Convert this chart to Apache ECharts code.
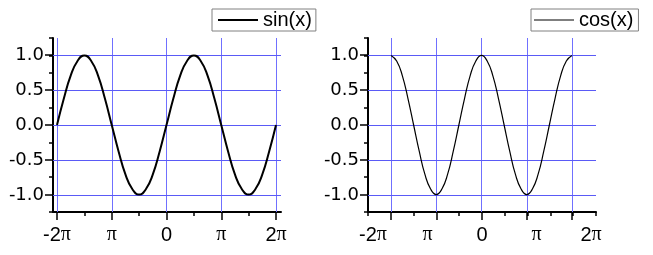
<!DOCTYPE html>
<html>
<head>
<meta charset="utf-8">
<script src="https://cdn.jsdelivr.net/npm/echarts@6/dist/echarts.min.js"></script>
<style>
html,body{margin:0;padding:0;background:#fff;}
#c{width:653px;height:255px;}
</style>
</head>
<body>
<div id="c"></div>
<script>
// x positions in units of pi
const xPi = [-2,-1.875,-1.75,-1.625,-1.5,-1.375,-1.25,-1.125,-1,-0.875,-0.75,-0.625,-0.5,-0.375,-0.25,-0.125,0,
             0.125,0.25,0.375,0.5,0.625,0.75,0.875,1,1.125,1.25,1.375,1.5,1.625,1.75,1.875,2];
// values
const sinValues = [0,0.38,0.71,0.92,1,0.92,0.71,0.38,0,-0.38,-0.71,-0.92,-1,-0.92,-0.71,-0.38,0,
                   0.38,0.71,0.92,1,0.92,0.71,0.38,0,-0.38,-0.71,-0.92,-1,-0.92,-0.71,-0.38,0];
const cosValues = [1,0.92,0.71,0.38,0,-0.38,-0.71,-0.92,-1,-0.92,-0.71,-0.38,0,0.38,0.71,0.92,1,
                   0.92,0.71,0.38,0,-0.38,-0.71,-0.92,-1,-0.92,-0.71,-0.38,0,0.38,0.71,0.92,1];
const xTickValues = [-2,-1,0,1,2];
const xTickLabels = ['-2π','π','0','π','2π'];
const yGridValues = [-1,-0.5,0,0.5,1];
const seriesNames = ['sin(x)','cos(x)'];

const SANS = 'Liberation Sans, Arial, sans-serif';
const YSANS = 'DejaVu Sans, sans-serif';
const SERIF = 'Liberation Serif, Times New Roman, serif';
const H_GRID = '#5a5af6';
const V_GRID = '#7070ff';
const THEME_LINE = '#6464f8';

// theme: any axis line/tick/split line left at a default colour becomes grid blue
const axisTheme = {
  axisLine:{lineStyle:{color:THEME_LINE}},
  axisTick:{lineStyle:{color:THEME_LINE}},
  minorTick:{lineStyle:{color:THEME_LINE}},
  splitLine:{lineStyle:{color:[THEME_LINE]}},
  minorSplitLine:{lineStyle:{color:THEME_LINE}},
  axisLabel:{color:'#000'}
};
echarts.registerTheme('gridblue', {
  valueAxis:axisTheme, categoryAxis:axisTheme, logAxis:axisTheme, timeAxis:axisTheme,
  axisPointer:{lineStyle:{color:THEME_LINE}}
});

function xLabelFmt(v){
  const i = xTickValues.indexOf(Math.round(v*1000)/1000);
  if (i < 0) return '';
  const t = xTickLabels[i];
  if (t.endsWith('π')) {
    const pre = t.slice(0,-1);
    return (pre ? '{s|' + pre + '}' : '') + '{p|π}';
  }
  return '{s|' + t + '}';
}
const xRich = {
  s:{fontFamily:SANS,fontSize:20,color:'#000'},
  p:{fontFamily:SERIF,fontSize:20,color:'#000'}
};
const HIDDEN = {axisLine:{show:false,onZero:false}, axisTick:{show:false}, axisLabel:{show:false},
  splitLine:{show:false}, minorTick:{show:false}, minorSplitLine:{show:false}, splitArea:{show:false},
  axisPointer:{show:false}};

const grids = [], xAxes = [], yAxes = [], extraSeries = [];
function gridLines(axisKey, values, color, xi, yi){
  return {type:'line', xAxisIndex:xi, yAxisIndex:yi, data:[], silent:true, z:4,
    markLine:{silent:true, symbol:['none','none'], animation:false, label:{show:false},
      lineStyle:{color:color, width:1, type:'solid'},
      emphasis:{disabled:true},
      data:values.map(v=>({[axisKey]:v}))}};
}
function addPanel(p){
  const base = grids.length;
  // outer grid: axis lines + quarter ticks on y
  grids.push({left:p.left, top:38, width:228, height:174});
  xAxes.push({gridIndex:base, type:'value', min:p.outerMin, max:p.outerMax, interval:p.outerInterval,
    axisLine:{show:true,onZero:false,lineStyle:{color:'#000',width:2}},
    axisTick:{show:p.outerTicks,length:4,lineStyle:{color:'#000',width:1.5}},
    axisLabel:{show:false}, splitLine:{show:false}, axisPointer:{show:false}});
  yAxes.push({gridIndex:base, type:'value', min:-1.25, max:1.25, interval:0.25,
    axisLine:{show:true,onZero:false,lineStyle:{color:'#000',width:2}},
    axisTick:{show:true,length:4,lineStyle:{color:'#000',width:1.5}},
    axisLabel:{show:false}, splitLine:{show:false}, axisPointer:{show:false}});
  // data grid
  grids.push({left:p.dataLeft, top:38, width:p.dataWidth, height:174});
  xAxes.push({gridIndex:base+1, type:'value', min:-2, max:2, interval:1,
    axisLine:{show:false,onZero:false},
    axisTick:{show:true,length:8,lineStyle:{color:'#000',width:1.5}},
    minorTick:{show:p.minor,splitNumber:2,length:4,lineStyle:{color:'#000',width:1.5}},
    axisLabel:{show:p.labelsOnData,margin:13,formatter:xLabelFmt,rich:xRich},
    splitLine:{show:false}, axisPointer:{show:false}});
  yAxes.push(Object.assign({gridIndex:base+1, type:'value', min:-1.25, max:1.25, interval:0.25}, HIDDEN));
  extraSeries.push(gridLines('xAxis', xTickValues, V_GRID, base+1, base+1));
  // y grid: labels and major y ticks
  grids.push({left:p.left, top:55, width:228, height:140});
  xAxes.push(Object.assign({gridIndex:base+2, type:'value', min:0, max:1, interval:1}, HIDDEN));
  yAxes.push({gridIndex:base+2, type:'value', min:-1, max:1, interval:0.5,
    axisLine:{show:false,onZero:false},
    axisTick:{show:true,length:8,lineStyle:{color:'#000',width:1.5}},
    axisLabel:{show:true,margin:9,fontFamily:YSANS,fontSize:18,color:'#000',
      formatter:v=>v.toFixed(1)},
    splitLine:{show:false}, axisPointer:{show:false}});
  extraSeries.push(gridLines('yAxis', yGridValues, H_GRID, base+2, base+2));
  if (!p.labelsOnData){
    grids.push({left:p.labelLeft, top:38, width:p.labelWidth, height:174});
    xAxes.push({gridIndex:base+3, type:'value', min:-2, max:2, interval:1,
      axisLine:{show:false,onZero:false}, axisTick:{show:false}, splitLine:{show:false},
      axisLabel:{show:true,margin:13,formatter:xLabelFmt,rich:xRich}, axisPointer:{show:false}});
    yAxes.push(Object.assign({gridIndex:base+3, type:'value', min:-1.25, max:1.25, interval:0.25}, HIDDEN));
  }
  return base+1;
}

const leftData = addPanel({left:53, outerMin:0, outerMax:1, outerInterval:1, outerTicks:false,
  dataLeft:57, dataWidth:219, minor:true, labelsOnData:true});
const rightData = addPanel({left:368, outerMin:-2.5, outerMax:2.5, outerInterval:0.5, outerTicks:true,
  dataLeft:391, dataWidth:181, minor:false, labelsOnData:false, labelLeft:373, labelWidth:218});

function pairs(xs, ys){ return xs.map((x,i)=>[x, ys[i]]); }

const chart = echarts.init(document.getElementById('c'), 'gridblue', {renderer:'canvas'});
chart.setOption({
  animation:false,
  backgroundColor:'#fff',
  tooltip:{show:false},
  grid:grids, xAxis:xAxes, yAxis:yAxes,
  legend:[
    {data:[seriesNames[0]], left:212, top:9, orient:'horizontal', itemWidth:40, itemHeight:2,
     icon:'rect', padding:[1,4,1,6], borderColor:'#808080', borderWidth:1, borderRadius:0,
     itemStyle:{color:'#000'},
     textStyle:{fontFamily:SANS,fontSize:20,color:'#000'}},
    {data:[seriesNames[1]], left:531, top:9, orient:'horizontal', itemWidth:40, itemHeight:1,
     icon:'rect', padding:[1,5,1,3], borderColor:'#808080', borderWidth:1, borderRadius:0,
     itemStyle:{color:'#000'},
     textStyle:{fontFamily:SANS,fontSize:20,color:'#000'}}
  ],
  series:extraSeries.concat([
    {name:seriesNames[0], type:'line', xAxisIndex:leftData, yAxisIndex:leftData,
     data:pairs(xPi, sinValues), smooth:true, symbol:'none', z:5, legendIcon:'rect',
     lineStyle:{color:'#000',width:2}, itemStyle:{color:'#000'}},
    {name:seriesNames[1], type:'line', xAxisIndex:rightData, yAxisIndex:rightData,
     data:pairs(xPi, cosValues), smooth:true, symbol:'none', z:5, legendIcon:'rect',
     lineStyle:{color:'#000',width:1.2}, itemStyle:{color:'#000'}}
  ])
});
</script>
</body>
</html>
